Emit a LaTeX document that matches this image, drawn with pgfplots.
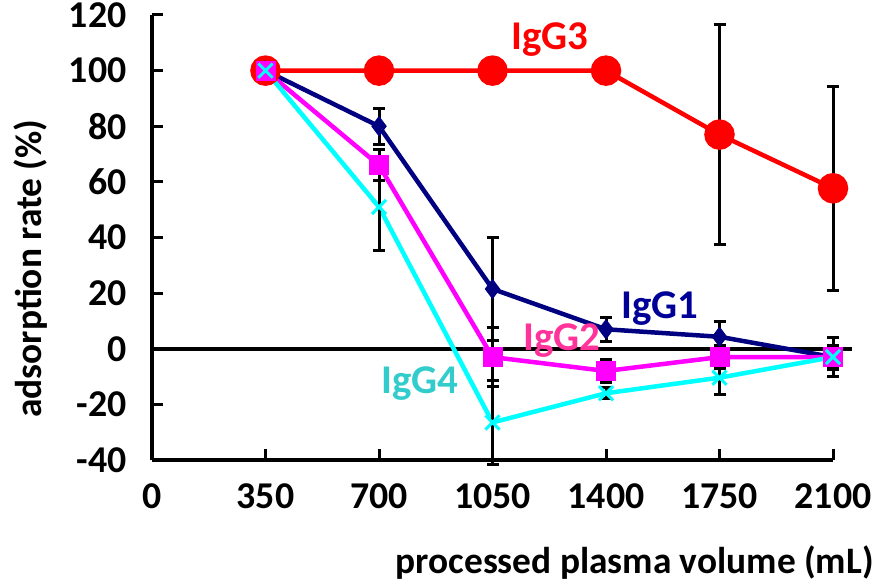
\documentclass[border=0pt]{standalone}
\usepackage{pgfplots}
\pgfplotsset{compat=1.18}
\usepackage{fontspec}
\setmainfont{Carlito}
\definecolor{igone}{RGB}{0,0,128}
\definecolor{igtwo}{RGB}{255,0,255}
\definecolor{igthree}{RGB}{255,0,0}
\definecolor{igfour}{RGB}{0,255,255}
\definecolor{labone}{RGB}{0,0,153}
\definecolor{labtwo}{RGB}{255,51,153}
\definecolor{labfour}{RGB}{51,204,204}
\begin{document}
\begin{tikzpicture}
\useasboundingbox (-152bp,-127bp) rectangle (730bp,460bp);
\begin{axis}[
  at={(0,0)}, anchor=south west,
  scale only axis, width=681bp, height=445bp,
  xmin=0, xmax=2100, ymin=-40, ymax=120,
  axis x line=bottom, axis y line=left,
  axis line style={-, line width=4bp},
  clip=false,
  xtick={0,350,...,2100}, ytick={-40,-20,...,120},
  tick align=inside, major tick length=11bp,
  tick style={line width=3bp, black},
  /pgf/number format/assume math mode=true,
  /pgf/number format/1000 sep={},
  tick label style={font=\fontsize{38}{42}\selectfont\bfseries},
  xticklabel style={yshift=-20bp},
  yticklabel style={xshift=-22bp},
  xlabel={processed plasma volume (mL)},
  ylabel={adsorption rate (\%)},
  label style={font=\fontsize{37.5}{42}\selectfont\bfseries},
  xlabel style={at={(axis description cs:1.065,-0.231)}, anchor=east},
  ylabel style={at={(axis description cs:-0.179,0.43)}, anchor=center},
  every axis plot/.append style={line width=4.5bp},
  error bars/error bar style={line width=3bp, black},
  error bars/error mark options={rotate=90, mark size=6bp, line width=3bp, black},
]
\draw[black, line width=4bp] (axis cs:0,0) -- (axis cs:2160,0);
% IgG3
\addplot[igthree, mark=*, mark size=13bp, mark options={fill=igthree, draw=igthree},
  error bars/.cd, y dir=both, y explicit]
  table[x=x, y=y, y error=e] {
x y e
350 100 0
700 100 0
1050 100 0
1400 100 0
1750 77 39.5
2100 57.7 36.6
};
% IgG1
\addplot[igone, mark=diamond*, mark size=9.5bp, mark options={fill=igone, draw=igone, line width=1bp},
  error bars/.cd, y dir=both, y explicit]
  table[x=x, y=y, y error=e] {
x y e
350 100 0
700 80 6.5
1050 21.5 18.6
1400 7 4.3
1750 4.3 5.4
2100 -3 7
};
% IgG2
\addplot[igtwo, mark=square*, mark size=9.5bp, mark options={fill=igtwo, draw=igtwo, line width=0.5bp},
  error bars/.cd, y dir=both, y explicit]
  table[x=x, y=y, y error=e] {
x y e
350 100 0
700 66 5.5
1050 -3 10.5
1400 -8 4.3
1750 -3 4
2100 -3 4.3
};
% IgG4
\addplot[igfour, mark=x, mark size=10bp, mark options={draw=igfour, line width=3bp},
  error bars/.cd, y dir=both, y explicit]
  table[x=x, y=y, y error=e] {
x y e
350 100 0
700 51 15.8
1050 -26.5 15
1400 -16 2
1750 -10.4 6
2100 -3 4
};
\node[font=\fontsize{41}{45}\selectfont\bfseries, text=igthree] at (axis cs:1227,111) {IgG3};
\node[font=\fontsize{41}{45}\selectfont\bfseries, text=labone] at (axis cs:1566,14.3) {IgG1};
\node[font=\fontsize{41}{45}\selectfont\bfseries, text=labtwo] at (axis cs:1264,2.9) {IgG2};
\node[font=\fontsize{41}{45}\selectfont\bfseries, text=labfour] at (axis cs:826,-12.5) {IgG4};
\end{axis}
\end{tikzpicture}
\end{document}
